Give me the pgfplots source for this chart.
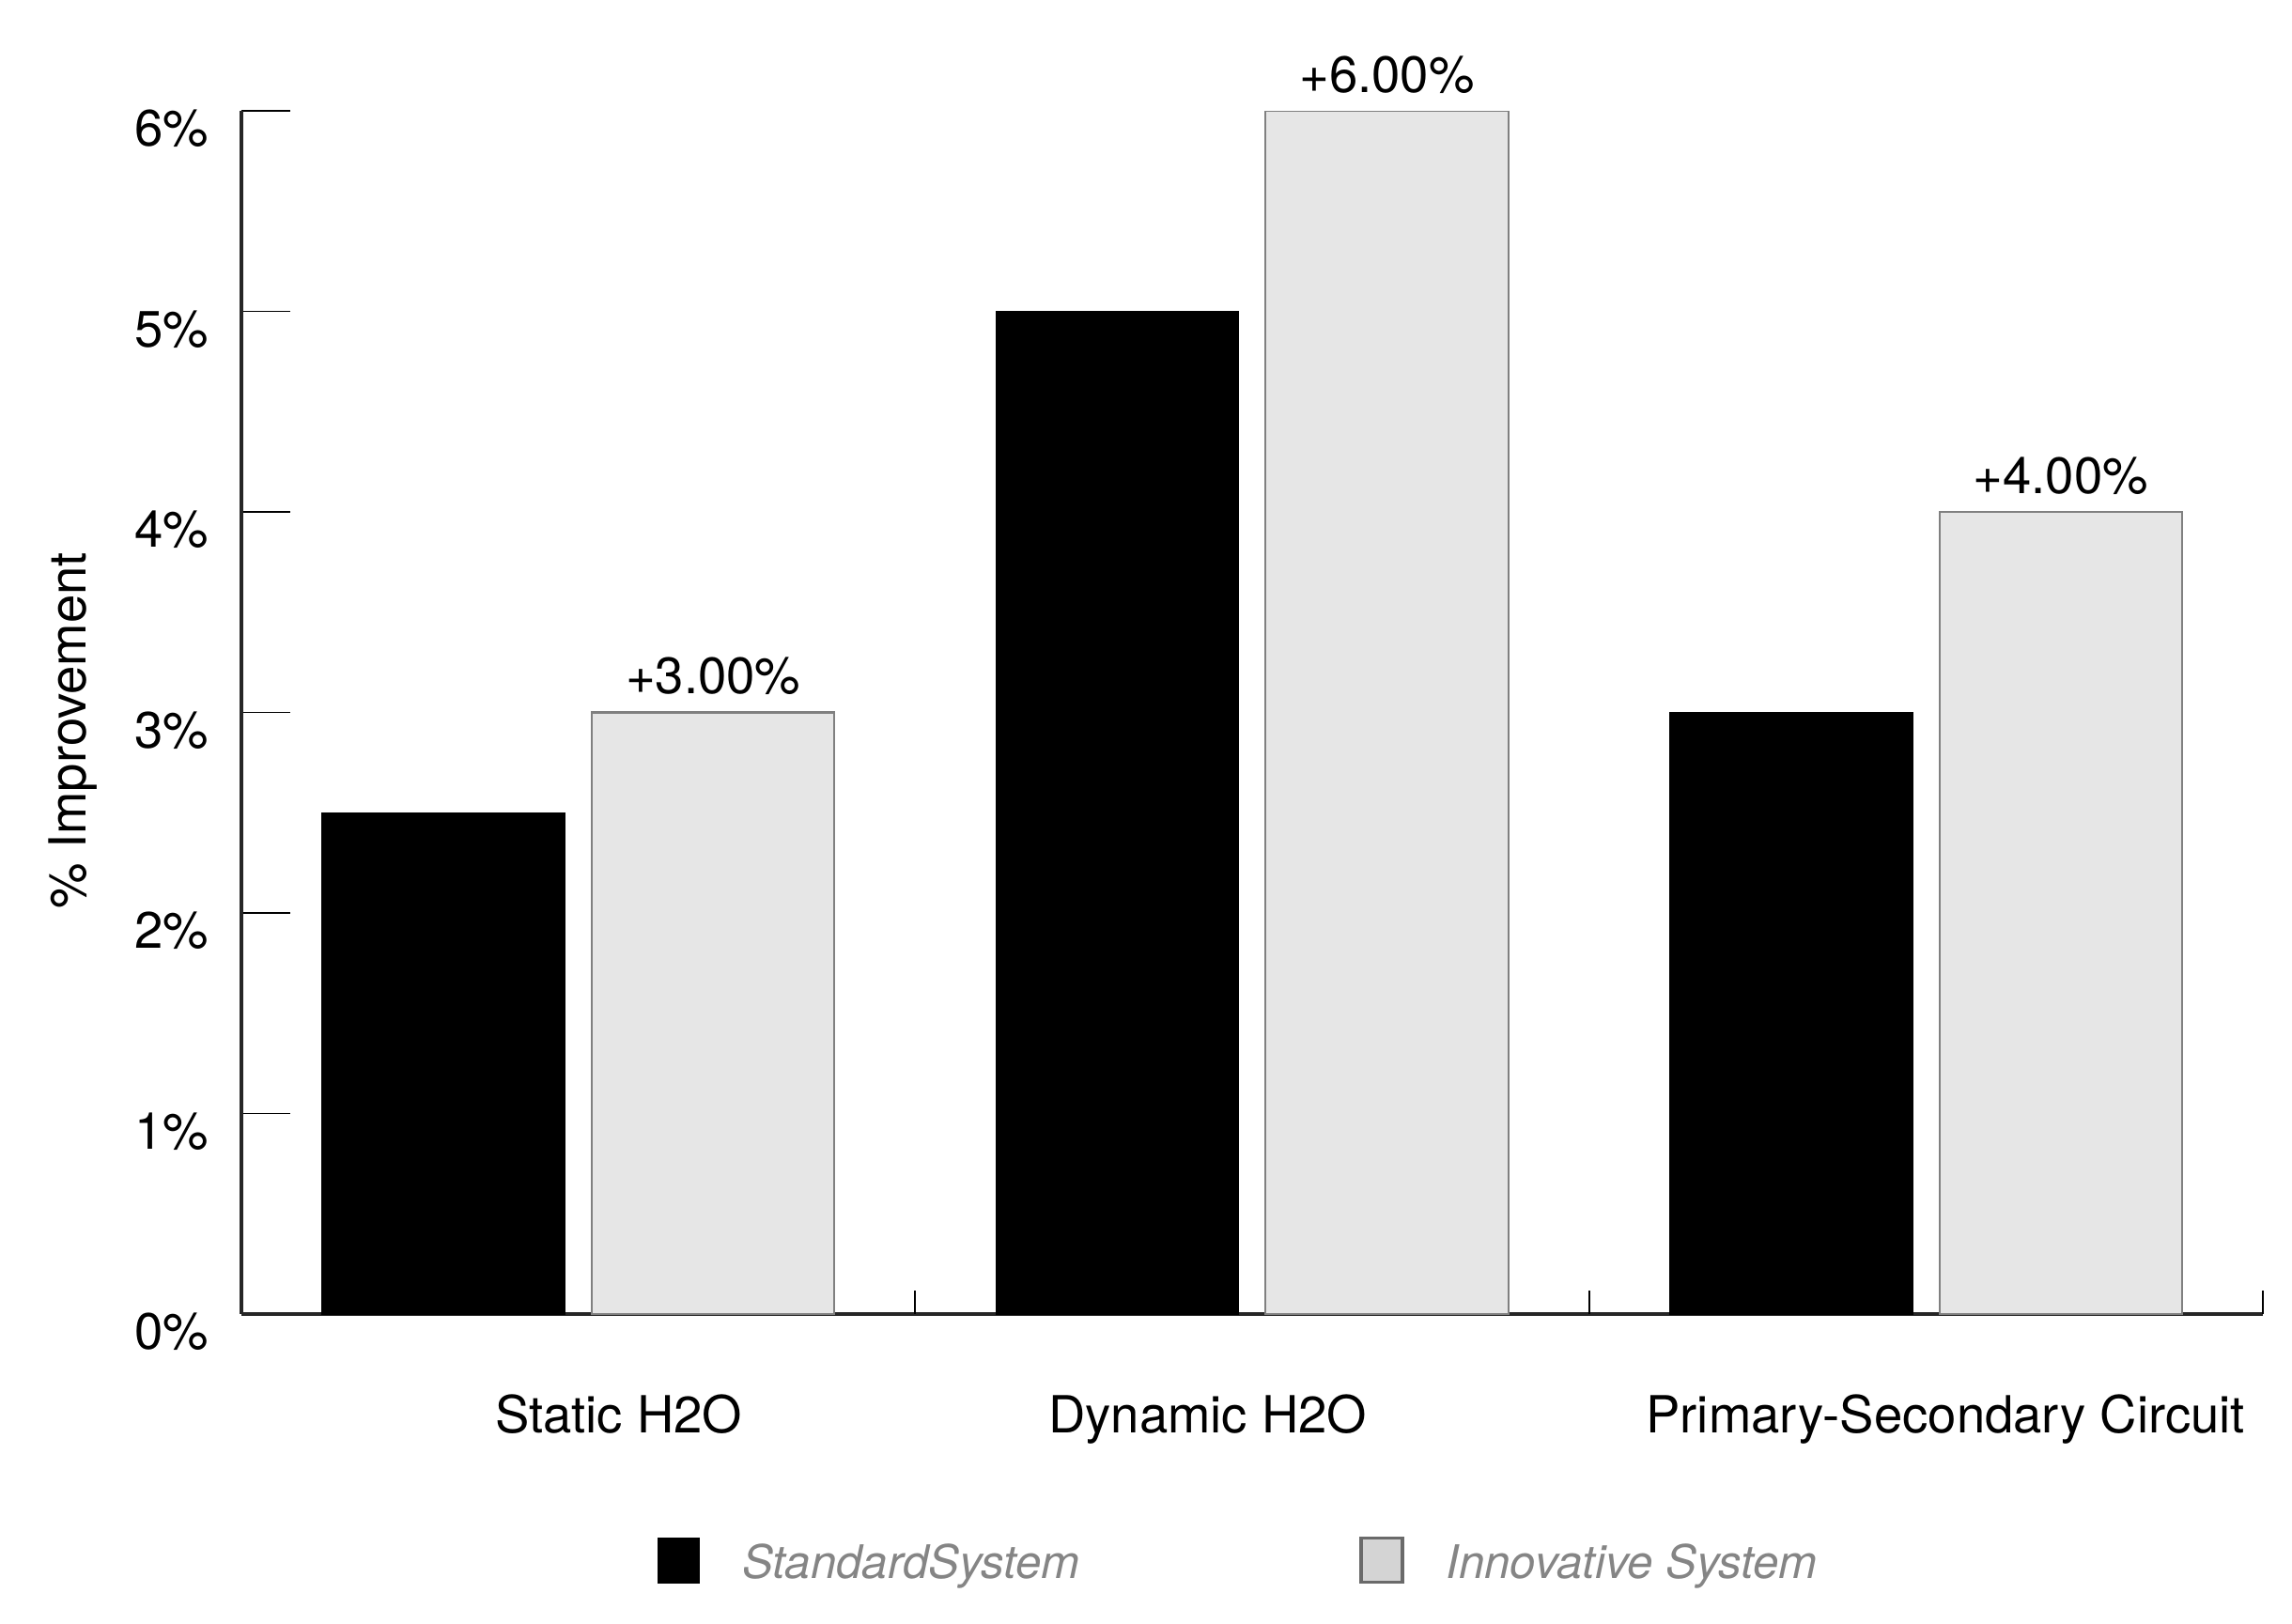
\documentclass[border=0pt]{standalone}
\usepackage{fontspec}
\setmainfont{TeX Gyre Heros}
\usepackage{pgfplots}
\pgfplotsset{compat=1.18}
\definecolor{lgrey}{HTML}{E6E6E6}
\definecolor{bgrey}{HTML}{808080}
\definecolor{leggrey}{HTML}{D4D4D4}
\definecolor{legedge}{HTML}{6A6A6A}
\definecolor{legtext}{HTML}{858585}
\begin{document}
\fontsize{15.5}{18.6}\selectfont
\begin{tikzpicture}[font=\fontsize{15.5}{18.6}\selectfont]
\useasboundingbox (0,0) rectangle (24.4cm,17.28cm);
\begin{axis}[
  at={(2.57cm,3.29cm)}, anchor=south west,
  width=21.52cm, height=12.81cm, scale only axis,
  xmin=-0.5, xmax=2.5, ymin=0, ymax=6,
  axis x line*=bottom, axis y line*=left,
  axis line style={line width=1.2pt, color=black!85},
  /pgf/number format/assume math mode=true,
  tick align=inside,
  major tick length=0.52cm,
  tick style={line width=0.5pt, black},
  ytick={0,1,2,3,4,5,6},
  yticklabels={0\%,1\%,2\%,3\%,4\%,5\%,6\%},
  yticklabel style={anchor=base east, inner sep=0pt, xshift=-0.345cm, yshift=-0.375cm},
  xtick={0.06,0.934,2.029},
  xticklabels={Static H2O, Dynamic H2O, Primary-Secondary Circuit},
  xtick style={draw=none},
  xticklabel style={anchor=base, inner sep=0pt, yshift=-1.26cm},
  extra x ticks={0.5,1.5,2.5},
  extra x tick labels={},
  extra x tick style={major tick length=0.25cm, xtick style={draw=black, line width=0.5pt}},
  ylabel={\% Improvement},
  ylabel style={at={(axis description cs:-0.0835,0.485)}, anchor=center, inner sep=0pt},
  legend columns=-1,
  legend style={at={(0.2054,-0.2055)}, anchor=west, draw=none, fill=none, inner sep=0pt,
    font=\fontsize{14}{16.8}\selectfont\itshape, text=legtext,
    nodes={inner sep=0pt},
    /tikz/every odd column/.style={column sep=0.45cm},
    /tikz/every even column/.style={column sep=2.98cm}},
]
\addplot[ybar, bar width=0.36, bar shift=-0.2, fill=black, draw=black, line width=0.4pt,
  legend image code/.code={\draw[fill=black, draw=black] (0cm,-0.19cm) rectangle (0.44cm,0.28cm);}]
  coordinates {(0,2.5) (1,5) (2,3)};
\addlegendentry{StandardSystem}
\addplot[ybar, bar width=0.36, bar shift=0.2, fill=lgrey, draw=bgrey, line width=0.6pt,
  nodes near coords={+\pgfmathprintnumber[fixed,fixed zerofill,precision=2]{\pgfplotspointmeta}\%},
  nodes near coords style={anchor=base, xshift=1.435cm, yshift=0.2cm, text=black, inner sep=0pt},
  legend image code/.code={\draw[fill=leggrey, draw=legedge, line width=0.9pt] (0cm,-0.19cm) rectangle (0.44cm,0.28cm);}]
  coordinates {(0,3) (1,6) (2,4)};
\addlegendentry{Innovative System}
\end{axis}
\end{tikzpicture}
\end{document}
